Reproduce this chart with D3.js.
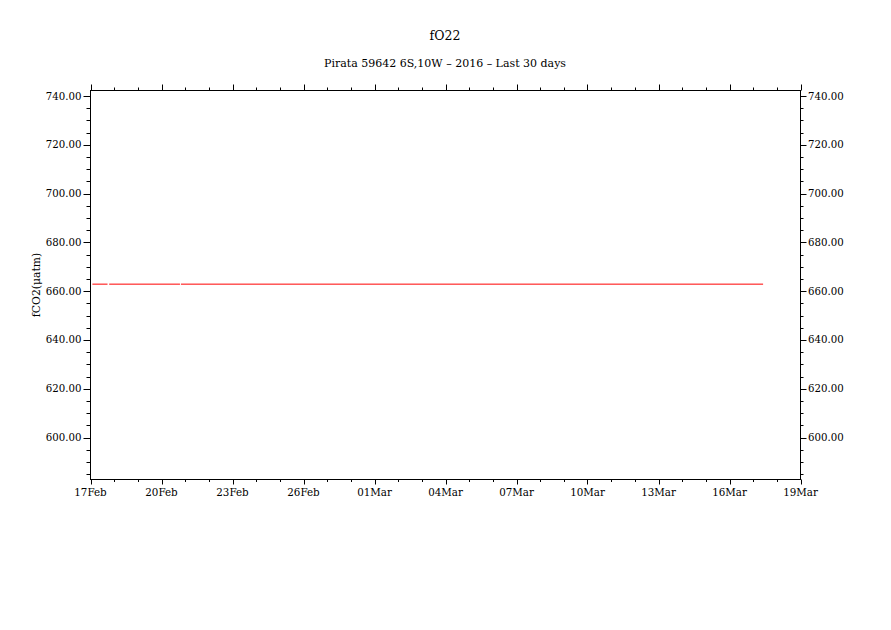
<!DOCTYPE html>
<html>
<head>
<meta charset="utf-8">
<script src="https://cdn.jsdelivr.net/npm/d3@7"></script>
<style>
  html, body { margin: 0; padding: 0; background: #fff; }
  svg { display: block; }
  text { font-family: "DejaVu Serif", serif; fill: #000; }
</style>
</head>
<body>
<svg id="chart" width="891" height="630"></svg>
<script>
// ---- data ----
const titleText = "fO22";
const subtitleText = "Pirata 59642 6S,10W \u2013 2016 \u2013 Last 30 days";
const yLabelText = "fCO2(\u03bcatm)";

// x positions in days since 17Feb (null = gap in record)
const obsDays = [0.08, 0.72, null, 0.79, 3.78, null, 3.82, 28.42];
const obsFco2 = [662.9, 662.9, null, 662.9, 662.9, null, 662.9, 662.9];

const xTickDays = [0, 3, 6, 9, 12, 15, 18, 21, 24, 27, 30];
const xTickLabels = ["17Feb", "20Feb", "23Feb", "26Feb", "01Mar", "04Mar", "07Mar", "10Mar", "13Mar", "16Mar", "19Mar"];
const yTicks = [600, 620, 640, 660, 680, 700, 720, 740];

// ---- layout ----
const svg = d3.select("#chart");
const plot = { left: 90.5, right: 800.5, top: 90.5, bottom: 479.5 };

const x = d3.scaleLinear().domain([0, 30]).range([plot.left, plot.right]);
const y = d3.scaleLinear().domain([582.8, 742.3]).range([plot.bottom, plot.top]);

const minorX = d3.range(0, 31, 1);
const minorY = d3.range(585, 745, 5);

// frame
svg.append("rect")
  .attr("x", plot.left).attr("y", plot.top)
  .attr("width", plot.right - plot.left).attr("height", plot.bottom - plot.top)
  .attr("fill", "none").attr("stroke", "#000").attr("stroke-width", 1);

const g = svg.append("g").attr("stroke", "#000").attr("stroke-width", 1);

// bottom ticks (outward, down) and top ticks (outward, up)
minorX.forEach(d => {
  const major = xTickDays.includes(d);
  const xx = Math.round(x(d)) + 0.5;
  g.append("line").attr("x1", xx).attr("x2", xx)
    .attr("y1", plot.bottom).attr("y2", plot.bottom + (major ? 5 : 2.5));
  g.append("line").attr("x1", xx).attr("x2", xx)
    .attr("y1", plot.top).attr("y2", plot.top - (major ? 6 : 3));
});

// left / right ticks
minorY.forEach(v => {
  const major = yTicks.includes(v);
  const yy = Math.round(y(v)) + 0.5;
  g.append("line").attr("x1", plot.left).attr("x2", plot.left - (major ? 7 : 4))
    .attr("y1", yy).attr("y2", yy);
  g.append("line").attr("x1", plot.right).attr("x2", plot.right + (major ? 6 : 3))
    .attr("y1", yy).attr("y2", yy);
});

// x tick labels
xTickDays.forEach((d, i) => {
  svg.append("text")
    .attr("x", x(d)).attr("y", 496)
    .attr("text-anchor", "middle")
    .attr("font-size", 10.3)
    .text(xTickLabels[i]);
});

// y tick labels
const fmt = d3.format(".2f");
yTicks.forEach(v => {
  svg.append("text")
    .attr("x", plot.left - 9).attr("y", y(v) + 3.5)
    .attr("text-anchor", "end").attr("font-size", 10.2)
    .text(fmt(v));
  svg.append("text")
    .attr("x", plot.right + 7.5).attr("y", y(v) + 3.5)
    .attr("text-anchor", "start").attr("font-size", 10.2)
    .text(fmt(v));
});

// titles
svg.append("text").attr("x", 445).attr("y", 40)
  .attr("text-anchor", "middle").attr("font-size", 12.5).text(titleText);
svg.append("text").attr("x", 445).attr("y", 67)
  .attr("text-anchor", "middle").attr("font-size", 11).text(subtitleText);

// y axis label
svg.append("text")
  .attr("transform", `translate(40,${(plot.top + plot.bottom) / 2}) rotate(-90)`)
  .attr("text-anchor", "middle").attr("font-size", 10.8)
  .text(yLabelText);

// data line
const pts = obsDays.map((d, i) => [d, obsFco2[i]]);
const line = d3.line()
  .defined(p => p[0] !== null && p[1] !== null)
  .x(p => x(p[0])).y(p => y(p[1]));
svg.append("path")
  .attr("d", line(pts))
  .attr("fill", "none").attr("stroke", "#ff0000").attr("stroke-width", 1);
</script>
</body>
</html>
